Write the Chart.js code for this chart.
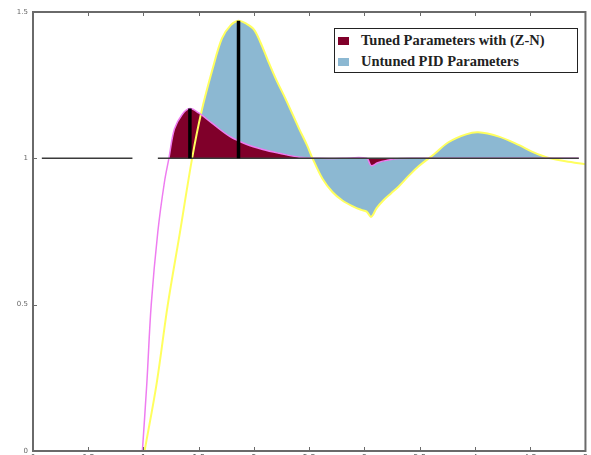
<!DOCTYPE html>
<html>
<head>
<meta charset="utf-8">
<script src="https://cdn.jsdelivr.net/npm/chart.js@4"></script>
<style>
    html, body { margin: 0; padding: 0; background: #fff; overflow: hidden; }
    #wrap { position: relative; width: 591px; height: 465px; }
    #legend {
        position: absolute; left: 334px; top: 28px; width: 244px; height: 45px;
        border: 1px solid #222; background: #fff; box-sizing: border-box;
        font-family: "Liberation Serif", serif; font-weight: bold; font-size: 14.5px; color: #222;
        padding: 1px 0 0 3px;
    }
    #legend .row { display: flex; align-items: center; height: 21px; }
    #legend .sw { width: 11px; height: 8px; margin-right: 12px; }
</style>
</head>
<body>
<div id="wrap">
    <canvas id="chart"></canvas>
    <div id="legend"></div>
</div>
<script>
// Step response, tuned with Ziegler-Nichols (magenta curve)
const tunedT = [0.99, 1.03, 1.07, 1.13, 1.19, 1.23, 1.28, 1.35, 1.42, 1.5, 1.62, 1.78, 1.93, 2.08, 2.23, 2.41, 2.6, 2.8, 3.02, 3.06, 3.12, 3.2, 3.3, 3.5, 4.0, 4.5, 4.94];
const tunedY = [0, 0.23, 0.5, 0.75, 0.92, 1.0, 1.10, 1.15, 1.17, 1.155, 1.12, 1.075, 1.048, 1.03, 1.017, 1.004, 1.0, 1.0, 1.0, 0.975, 0.985, 0.993, 0.999, 1.0, 1.0, 1.0, 1.0];

// Step response, untuned PID (yellow curve)
const untunedT = [1.01, 1.12, 1.22, 1.33, 1.44, 1.525, 1.625, 1.71, 1.79, 1.86, 1.93, 2.0, 2.06, 2.12, 2.2, 2.29, 2.41, 2.48, 2.53,
    2.62, 2.71, 2.8, 2.9, 2.97, 3.02, 3.06, 3.11, 3.17, 3.24, 3.31, 3.4, 3.49, 3.63, 3.76, 3.92, 4.03, 4.21, 4.40, 4.51, 4.62, 4.68, 4.82, 5.0];
const untunedY = [0, 0.233, 0.5, 0.747, 1.0, 1.16, 1.305, 1.41, 1.455, 1.47, 1.46, 1.44, 1.395, 1.34, 1.27, 1.20, 1.10, 1.045, 1.0,
    0.93, 0.885, 0.856, 0.835, 0.824, 0.818, 0.80, 0.83, 0.856, 0.88, 0.904, 0.94, 0.973, 1.014, 1.055, 1.082, 1.089, 1.075, 1.045, 1.024, 1.007, 1.0, 0.99, 0.98];

// set point line (with the gap before the step)
const refT = [0.08, 0.9, 1.0, 1.13, 4.94];
const refY = [1, 1, null, 1, 1];

const seriesLabels = ['Tuned Parameters with (Z-N)', 'Untuned PID Parameters'];
const xTicks = { min: 0, max: 5, step: 0.5 };
const yTicks = { min: 0, max: 1.5, step: 0.5 };

const MAROON = '#80002a';
const BLUE = '#8cb8d2';
const TENSION = 0.35;

const toPoints = (xs, ys) => xs.map((x, i) => ({ x: x, y: ys[i] }));

// part of a curve from where it first reaches 1 to where it last is at or above 1
const aboveSetPoint = (xs, ys, toEnd) => {
    const first = ys.findIndex(v => v >= 1);
    let last = ys.length - 1;
    if (!toEnd) {
        while (last > first && ys[last] < 1) last--;
    }
    return toPoints(xs.slice(first, last + 1), ys.slice(first, last + 1));
};

const peakMarker = (xs, ys) => {
    const i = ys.indexOf(Math.max(...ys));
    return [{ x: xs[i], y: 1 }, { x: xs[i], y: ys[i] }];
};

const marker = (data) => ({
    data: data, borderColor: '#000', borderWidth: 3.5, pointRadius: 0, fill: false, legend: false
});

const frame = {
    id: 'frame',
    afterDraw: (chart) => {
        const { ctx, chartArea: a, scales } = chart;
        ctx.save();
        ctx.strokeStyle = '#6a6a6a';
        ctx.lineWidth = 1;
        // small inward ticks on top, bottom and left edges
        scales.x.ticks.forEach(t => {
            const px = Math.round(scales.x.getPixelForValue(t.value)) + 0.5;
            ctx.beginPath(); ctx.moveTo(px, a.top); ctx.lineTo(px, a.top + 4); ctx.stroke();
            ctx.beginPath(); ctx.moveTo(px, a.bottom); ctx.lineTo(px, a.bottom - 4); ctx.stroke();
        });
        scales.y.ticks.forEach(t => {
            const py = Math.round(scales.y.getPixelForValue(t.value)) + 0.5;
            ctx.beginPath(); ctx.moveTo(a.left, py); ctx.lineTo(a.left + 4, py); ctx.stroke();
        });
        ctx.lineWidth = 2;
        ctx.strokeRect(a.left, a.top, a.right - a.left, a.bottom - a.top);
        ctx.restore();
    }
};

const config = {
    type: 'line',
    data: {
        datasets: [
            marker(peakMarker(tunedT, tunedY)),
            marker(peakMarker(untunedT, untunedY)),
            {
                data: toPoints(refT, refY), borderColor: '#3a3a3a', borderWidth: 1.5,
                pointRadius: 0, fill: false, spanGaps: false, legend: false
            },
            {
                data: toPoints(tunedT, tunedY), borderColor: '#ee7cf0', borderWidth: 1.5,
                pointRadius: 0, fill: false, tension: TENSION, legend: false
            },
            {
                data: toPoints(untunedT, untunedY), borderColor: '#ffff5e', borderWidth: 2,
                pointRadius: 0, fill: false, tension: TENSION, legend: false
            },
            {
                label: seriesLabels[0],
                data: aboveSetPoint(tunedT, tunedY, true), borderWidth: 0, borderColor: MAROON,
                backgroundColor: MAROON, pointRadius: 0, fill: { value: 1 },
                tension: TENSION, legend: true
            },
            {
                label: seriesLabels[1],
                data: aboveSetPoint(untunedT, untunedY, false), borderWidth: 0, borderColor: BLUE,
                backgroundColor: BLUE, pointRadius: 0, fill: { value: 1 },
                tension: TENSION, legend: true
            }
        ]
    },
    options: {
        responsive: true,
        maintainAspectRatio: false,
        animation: false,
        layout: { padding: { top: 12, right: 4, left: 0, bottom: 0 } },
        scales: {
            x: {
                type: 'linear', min: xTicks.min, max: xTicks.max,
                grid: { display: false, drawTicks: false },
                border: { display: false },
                ticks: {
                    stepSize: xTicks.step, padding: 3, color: '#666',
                    font: { size: 8, family: 'DejaVu Sans' },
                    callback: (v) => String(v)
                },
                afterFit: (scale) => { scale.height = 14; }
            },
            y: {
                min: yTicks.min, max: yTicks.max,
                grid: { display: false, drawTicks: false },
                border: { display: false },
                ticks: {
                    stepSize: yTicks.step, padding: 5, color: '#666',
                    font: { size: 7, family: 'DejaVu Sans' },
                    callback: (v) => String(v)
                },
                afterFit: (scale) => { scale.width = 33; }
            }
        },
        plugins: {
            legend: { display: false },
            tooltip: { enabled: false },
            title: { display: false }
        }
    },
    plugins: [frame]
};

const chart = new Chart(document.getElementById('chart'), config);

// legend box inside the plot, built from the filled datasets
const legendEl = document.getElementById('legend');
chart.data.datasets.filter(d => d.legend).forEach(d => {
    const row = document.createElement('div');
    row.className = 'row';
    const sw = document.createElement('span');
    sw.className = 'sw';
    sw.style.background = d.backgroundColor;
    const txt = document.createElement('span');
    txt.textContent = d.label;
    row.appendChild(sw);
    row.appendChild(txt);
    legendEl.appendChild(row);
});
</script>
</body>
</html>
